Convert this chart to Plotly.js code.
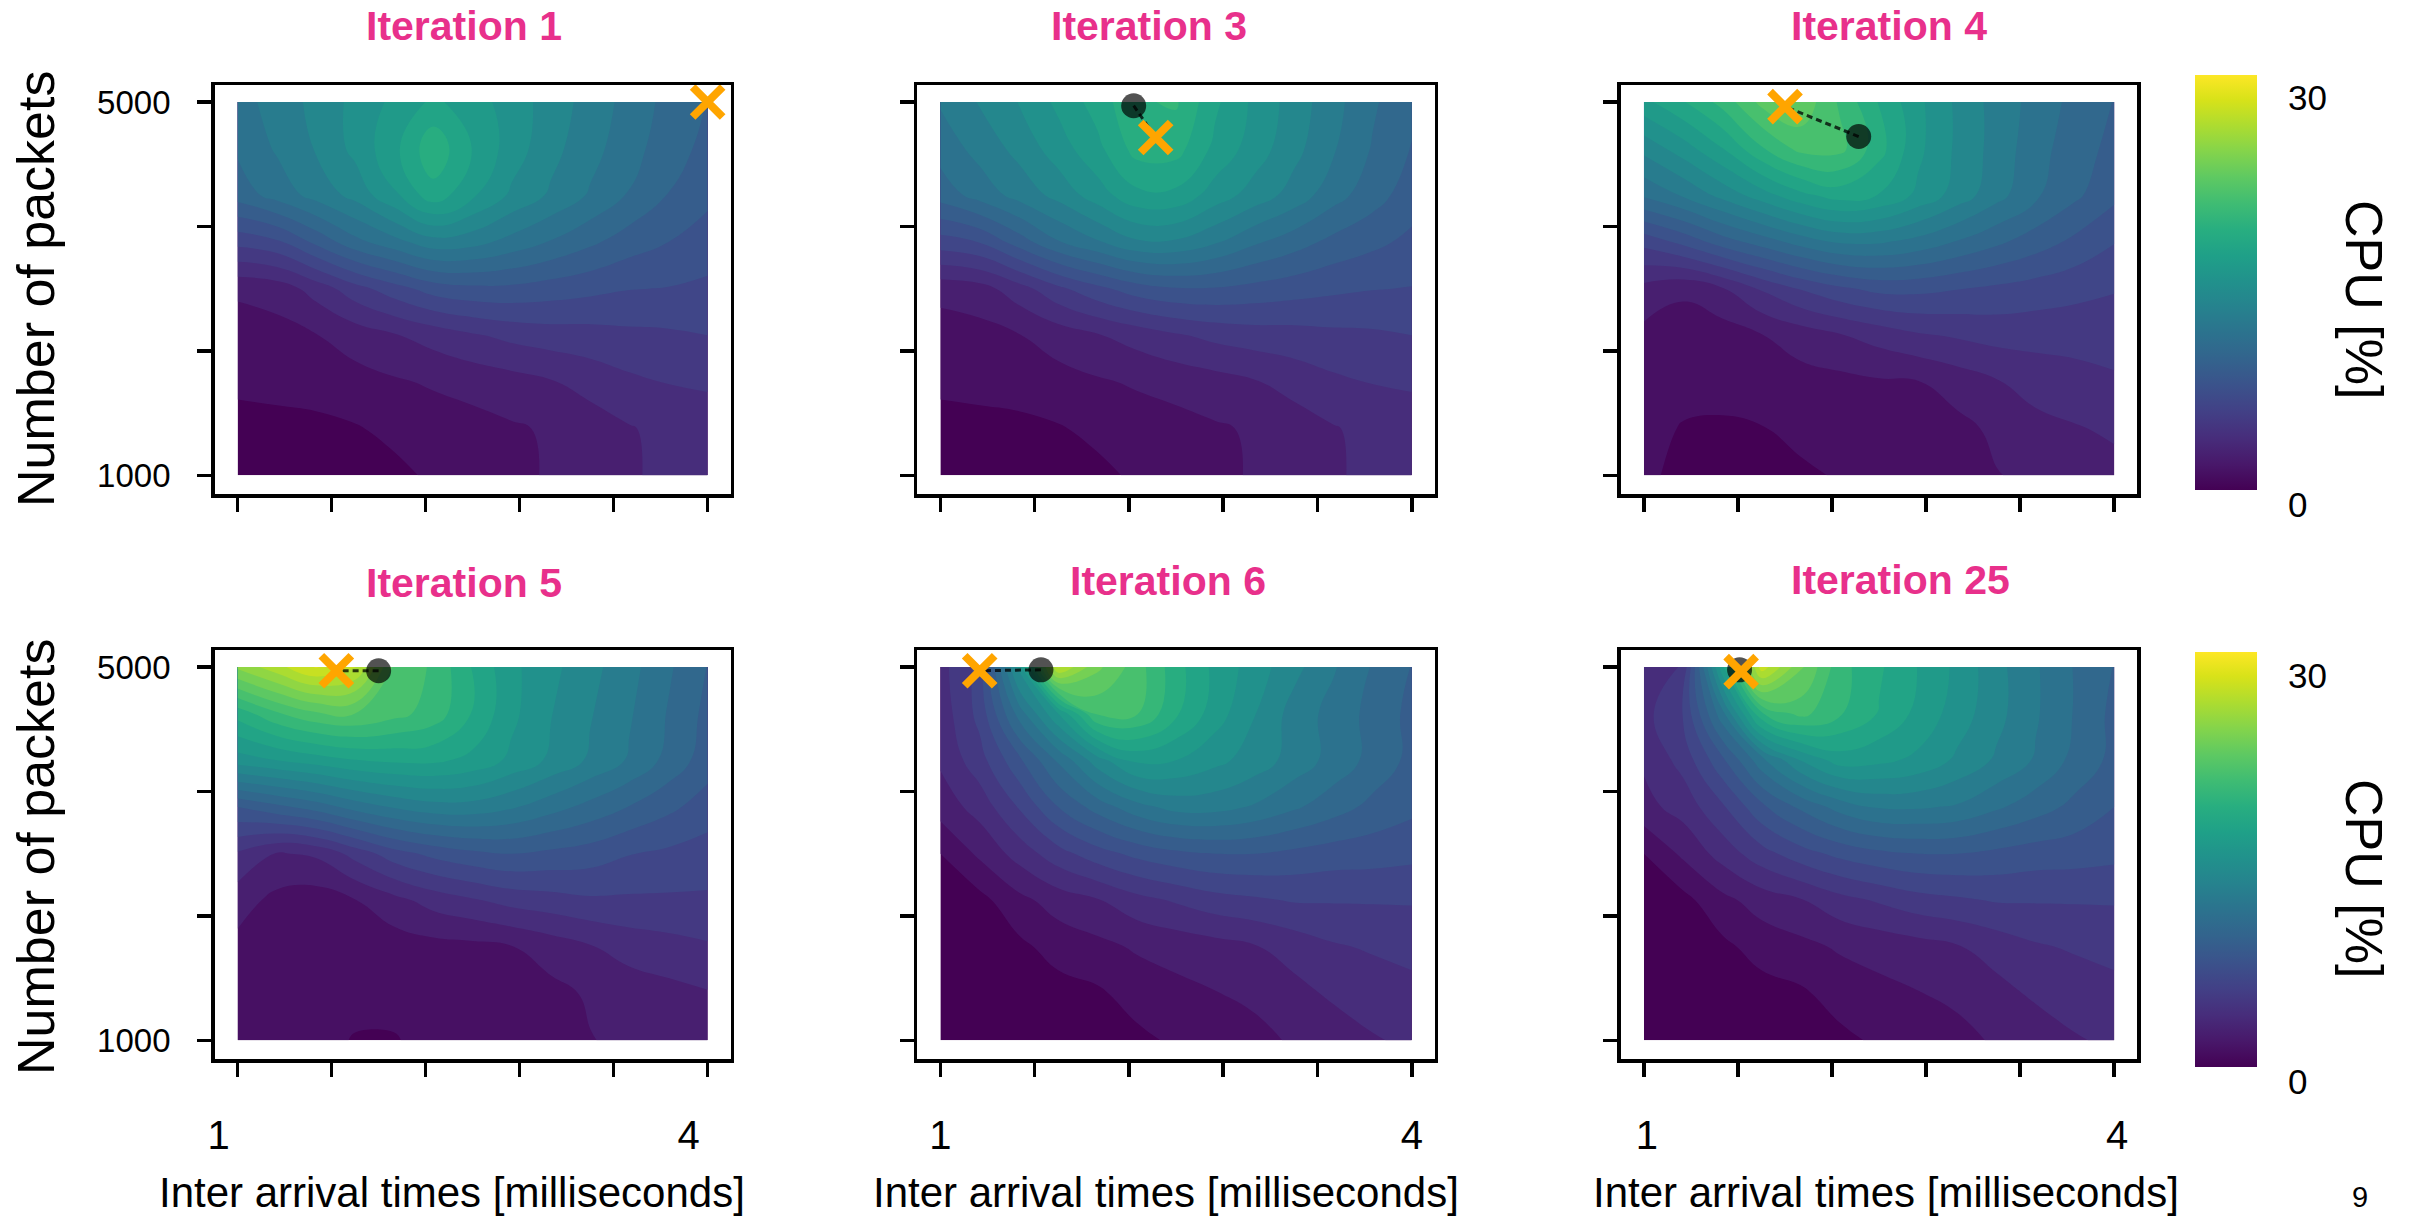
<!DOCTYPE html>
<html>
<head>
<meta charset="utf-8">
<script src="https://cdn.plot.ly/plotly-3.0.1.min.js"></script>
<style>
html,body{margin:0;padding:0;background:#ffffff;}
#chart{width:2415px;height:1216px;}
</style>
</head>
<body>
<div id="chart"></div>
<script>
// ---------------- DATA ----------------
const interArrival = [1, 1.25, 1.5, 1.75, 2, 2.25, 2.5, 2.75, 3, 3.25, 3.5, 3.75, 4];
const numPackets = [1000, 1500, 2000, 2500, 3000, 3500, 4000, 4500, 5000];

const iterations = [1, 3, 4, 5, 6, 25];

// CPU [%] estimated surfaces, rows follow numPackets, columns follow interArrival
const cpuIter1 = [
  [0.5,0.5,0.6,0.9,1.1,1.6,2.0,2.3,2.8,3.2,3.8,4.1,4.4],
  [0.9,1.0,1.1,1.3,1.7,2.0,2.2,2.5,2.8,3.2,3.8,4.3,4.6],
  [1.7,1.8,1.9,2.2,2.5,2.8,3.1,3.4,3.8,4.4,4.9,5.2,5.3],
  [2.0,2.2,2.6,3.2,3.8,4.4,5.0,5.5,5.8,5.9,6.1,6.2,6.4],
  [2.9,3.2,4.4,5.9,7.1,8.2,8.6,8.6,8.3,8.0,7.7,7.6,7.4],
  [6.8,7.4,9.2,11.0,12.2,13.4,13.1,12.2,11.3,10.4,9.5,8.9,8.3],
  [10.7,11.9,13.1,14.3,16.2,18.4,16.6,14.9,13.7,12.5,11.3,10.1,9.2],
  [11.6,12.8,14.0,15.5,17.3,19.8,17.6,15.8,14.3,13.1,11.9,10.7,9.8],
  [12.2,13.1,14.3,15.5,16.7,17.9,17.0,15.8,14.6,13.4,12.2,11.0,10.1]
];
const cpuIter3 = [
  [0.5,0.5,0.6,0.9,1.1,1.6,2.0,2.3,2.8,3.2,3.8,4.1,4.4],
  [0.9,1.0,1.1,1.3,1.7,2.0,2.2,2.5,2.8,3.2,3.8,4.3,4.6],
  [1.7,1.8,1.9,2.2,2.5,2.8,3.1,3.4,3.8,4.4,4.9,5.2,5.3],
  [2.0,2.2,2.6,3.2,3.8,4.4,5.0,5.5,5.8,5.9,6.1,6.2,6.4],
  [3.1,3.4,4.6,6.1,7.3,8.3,8.8,8.8,8.5,8.2,7.9,7.7,7.6],
  [7.1,7.7,9.5,11.3,12.5,13.7,13.7,12.8,11.6,10.7,9.8,9.2,8.6],
  [10.7,11.9,13.1,14.3,15.8,17.3,17.3,15.8,14.6,13.4,11.9,10.7,9.5],
  [11.9,13.1,14.3,15.8,17.3,19.4,19.4,17.3,15.8,14.3,12.8,11.3,10.1],
  [12.8,14.0,15.2,16.7,18.2,20.0,20.3,17.9,16.1,14.6,13.1,11.6,10.4]
];
const cpuIter4 = [
  [1.7,1.0,0.6,0.8,1.2,1.5,2.0,2.2,2.3,2.6,2.9,3.2,3.5],
  [1.9,1.3,1.2,1.35,1.7,1.9,2.0,2.2,2.3,2.9,3.5,3.8,4.1],
  [2.0,1.9,1.9,2.0,2.2,2.3,2.5,2.6,3.2,3.8,4.4,4.7,5.0],
  [2.3,2.0,2.0,2.6,3.2,3.8,4.4,5.0,5.3,5.6,5.6,5.6,5.6],
  [3.5,2.9,3.8,5.3,6.5,7.4,8.0,8.0,7.7,7.4,7.1,6.8,6.5],
  [6.8,8.0,9.5,10.7,11.9,12.8,12.8,12.2,11.3,10.4,9.5,8.6,7.7],
  [11.6,12.8,14.3,15.8,17.3,18.2,17.6,16.1,14.6,13.1,11.6,10.4,9.2],
  [14.3,15.8,17.6,20.0,21.8,21.8,19.4,16.7,14.9,13.4,11.9,10.7,9.8],
  [17.3,18.8,20.6,23.0,23.6,21.2,18.8,16.7,14.9,13.4,12.2,11.0,10.1]
];
const cpuIter5 = [
  [2.0,2.0,1.9,1.3,1.3,1.9,2.0,2.2,2.3,2.6,2.9,3.2,3.5],
  [2.2,2.0,1.9,1.9,1.9,1.9,2.0,2.2,2.3,2.8,3.2,3.5,3.8],
  [2.3,2.0,1.9,1.9,2.0,2.2,2.3,2.6,3.2,3.8,4.4,4.7,5.0],
  [3.2,2.3,2.0,2.6,3.5,4.4,5.0,5.6,5.9,6.2,6.2,6.2,6.2],
  [5.0,3.8,4.1,5.6,7.1,8.0,8.6,8.9,8.6,8.3,7.7,7.4,7.1],
  [8.9,9.8,10.7,11.9,12.8,13.4,13.4,12.8,11.9,11.0,10.1,9.2,8.3],
  [15.8,16.4,17.0,17.6,17.9,17.9,17.3,16.1,14.9,13.7,12.5,11.0,9.5],
  [19.4,21.2,22.4,22.7,21.8,20.9,18.8,16.7,15.2,14.0,12.8,11.3,9.8],
  [25.4,27.2,29.0,27.8,22.4,21.2,18.8,16.7,15.5,14.3,13.1,11.6,10.1]
];
const cpuIter6 = [
  [0.2,0.3,0.4,0.5,0.6,1.1,1.6,2.0,2.3,2.8,3.2,3.8,4.1],
  [0.3,0.4,0.5,0.9,1.2,1.9,2.3,2.6,2.9,3.5,4.1,4.4,4.7],
  [0.4,0.5,1.1,1.9,2.3,2.8,3.1,3.4,3.8,4.4,5.0,5.3,5.6],
  [0.6,1.0,2.3,3.2,3.8,4.7,5.3,5.9,6.2,6.5,6.5,6.5,6.5],
  [1.4,2.9,4.4,5.9,7.1,8.0,8.6,8.9,8.9,8.6,8.3,8.2,8.0],
  [3.2,4.4,6.5,8.9,10.7,12.2,13.1,13.1,12.5,11.6,10.7,9.8,9.2],
  [4.1,5.9,8.6,11.6,14.6,16.7,16.4,15.5,14.6,13.4,12.2,11.0,9.8],
  [4.4,6.8,11.9,16.4,21.6,21.5,19.1,17.0,15.2,13.4,12.2,11.0,9.8],
  [4.7,6.8,15.8,27.8,24.2,22.0,19.4,17.3,15.8,14.3,12.8,11.3,10.1]
];
const cpuIter25 = [
  [0.2,0.3,0.4,0.5,0.6,1.1,1.6,2.0,2.3,2.8,3.2,3.8,4.1],
  [0.3,0.4,0.5,0.9,1.2,1.9,2.3,2.6,2.9,3.5,4.1,4.4,4.7],
  [0.4,0.5,1.1,1.9,2.3,2.8,3.1,3.4,3.8,4.4,5.0,5.3,5.6],
  [0.6,1.0,2.3,3.2,3.8,4.7,5.3,5.9,6.2,6.5,6.5,6.5,6.5],
  [1.4,2.9,4.4,5.9,7.1,8.0,8.6,8.9,8.9,8.6,8.3,8.2,8.0],
  [3.5,4.4,6.2,8.6,10.4,11.9,12.8,12.8,12.5,11.6,10.7,9.8,8.9],
  [4.1,5.6,8.6,12.2,15.2,17.0,16.7,16.1,14.9,13.7,12.5,11.0,9.8],
  [4.7,6.5,12.2,20.0,21.8,20.3,18.8,17.3,15.8,14.3,12.8,11.3,9.8],
  [4.1,5.3,17.3,28.4,24.2,20.6,19.1,17.6,16.1,14.3,12.8,11.3,10.1]
];
const cpuSurfaces = [cpuIter1, cpuIter3, cpuIter4, cpuIter5, cpuIter6, cpuIter25];

// previously evaluated point (black dot) and next suggestion (orange cross)
const prevX = [null, 2.23, 2.37, 1.90, 1.64, 1.61];
const prevY = [null, 4960, 4630, 4960, 4970, 4970];
const nextX = [4.0, 2.37, 1.90, 1.63, 1.25, 1.62];
const nextY = [5000, 4620, 4950, 4960, 4960, 4950];

// tick labels
const xTickVals = [1, 1.6, 2.2, 2.8, 3.4, 4];
const xTickText = ['1', '', '', '', '', '4'];
const yTickVals = [1000, 2333.333, 3666.667, 5000];
const yTickText = ['1000', '', '', '5000'];
const cbTickLabels = ['30', '0'];

// ---------------- LAYOUT HELPERS ----------------
const W = 2415, H = 1216;
const px = v => v / W;
const py = v => 1 - v / H;
const FONT = 'Liberation Sans, Arial, Helvetica, sans-serif';
const PINK = '#e8308b';

const colPx = [[214.6, 730.5], [917.3, 1434.7], [1620.9, 2137.1]];
const rowPx = [[85, 494], [650, 1059]];
const xLabelShift = [-19, 0, 3];

// contour levels: band colours from viridis(0) below start to viridis(1) above end
const levels = {start: 1.4, end: 30.15, size: 1.25};

const traces = [];
const layout = {
  width: W, height: H,
  margin: {l: 0, r: 0, t: 0, b: 0},
  paper_bgcolor: '#ffffff',
  plot_bgcolor: '#ffffff',
  showlegend: false,
  font: {family: FONT, color: '#000'},
  annotations: []
};

for (let i = 0; i < 6; i++) {
  const row = i < 3 ? 0 : 1;
  const col = i % 3;
  const xid = i === 0 ? 'x' : 'x' + (i + 1);
  const yid = i === 0 ? 'y' : 'y' + (i + 1);
  const xname = i === 0 ? 'xaxis' : 'xaxis' + (i + 1);
  const yname = i === 0 ? 'yaxis' : 'yaxis' + (i + 1);

  layout[xname] = {
    domain: [px(colPx[col][0]), px(colPx[col][1])],
    range: [0.853, 4.146],
    anchor: yid,
    tickmode: 'array', tickvals: xTickVals, ticktext: xTickText,
    showticklabels: row === 1,
    ticks: 'outside', ticklen: 14, tickwidth: 3.5, tickcolor: '#000',
    showline: true, linewidth: 3.5, linecolor: '#000', mirror: true,
    showgrid: false, zeroline: false, fixedrange: true,
    tickfont: {family: FONT, size: 40, color: '#000'},
    ticklabelstandoff: 24,
    ticklabelshift: xLabelShift[col]
  };
  layout[yname] = {
    domain: [py(rowPx[row][1]), py(rowPx[row][0])],
    range: [800, 5182],
    anchor: xid,
    tickmode: 'array', tickvals: yTickVals, ticktext: yTickText,
    showticklabels: col === 0,
    ticks: 'outside', ticklen: 14, tickwidth: 3.5, tickcolor: '#000',
    showline: true, linewidth: 3.5, linecolor: '#000', mirror: true,
    showgrid: false, zeroline: false, fixedrange: true,
    tickfont: {family: FONT, size: 33, color: '#000'},
    ticklabelstandoff: 20
  };

  traces.push({
    type: 'contour',
    x: interArrival, y: numPackets, z: cpuSurfaces[i],
    xaxis: xid, yaxis: yid,
    colorscale: 'Viridis',
    autocontour: false,
    contours: {start: levels.start, end: levels.end, size: levels.size, coloring: 'fill', showlines: false},
    line: {width: 0, smoothing: 1.3},
    showscale: false,
    hoverinfo: 'skip'
  });

  if (prevX[i] !== null) {
    traces.push({
      type: 'scatter', mode: 'lines',
      x: [prevX[i], nextX[i]], y: [prevY[i], nextY[i]],
      xaxis: xid, yaxis: yid,
      line: {color: 'rgba(0,0,0,0.75)', width: 3, dash: '6px,4px'},
      hoverinfo: 'skip', cliponaxis: false
    });
    traces.push({
      type: 'scatter', mode: 'markers',
      x: [prevX[i]], y: [prevY[i]],
      xaxis: xid, yaxis: yid,
      marker: {symbol: 'circle', size: 25, color: 'rgba(0,0,0,0.68)', line: {width: 0}},
      hoverinfo: 'skip', cliponaxis: false
    });
  }
  traces.push({
    type: 'scatter', mode: 'markers',
    x: [nextX[i]], y: [nextY[i]],
    xaxis: xid, yaxis: yid,
    marker: {symbol: 'x-thin-open', size: 30, color: '#ffa500', line: {color: '#ffa500', width: 8}},
    hoverinfo: 'skip', cliponaxis: false
  });

  // panel title
  const titlePos = [[463.5, 26], [1149, 26], [1889, 26], [464, 583], [1168, 581], [1900, 580]][i];
  layout.annotations.push({
    text: '<b>Iteration ' + iterations[i] + '</b>',
    xref: 'paper', yref: 'paper', x: px(titlePos[0]), y: py(titlePos[1]),
    xanchor: 'center', yanchor: 'middle', showarrow: false,
    font: {family: FONT, size: 41, color: PINK}
  });
  if (row === 1) {
    const xt = [452, 1166, 1886][col];
    layout.annotations.push({
      text: 'Inter arrival times [milliseconds]',
      xref: 'paper', yref: 'paper', x: px(xt), y: py(1192),
      xanchor: 'center', yanchor: 'middle', showarrow: false,
      font: {family: FONT, size: 42, color: '#000'}
    });
  }
  if (col === 0) {
    layout.annotations.push({
      text: 'Number of packets',
      xref: 'paper', yref: 'paper', x: px(36), y: py(row === 0 ? 289 : 857),
      xanchor: 'center', yanchor: 'middle', showarrow: false, textangle: -90,
      font: {family: FONT, size: 52, color: '#000'}
    });
  }
}

// colour bars (continuous viridis), carried by hidden heatmaps sharing the panel data
const cbRows = [[75, 490], [652, 1067]];
[cpuIter4, cpuIter25].forEach((z, k) => {
  const xa = 'x' + (7 + k), ya = 'y' + (7 + k);
  layout['xaxis' + (7 + k)] = {domain: [0, 0.0004], visible: false, anchor: ya, fixedrange: true};
  layout['yaxis' + (7 + k)] = {domain: [0, 0.0004], visible: false, anchor: xa, fixedrange: true};
  const top = cbRows[k][0], bot = cbRows[k][1];
  traces.push({
    type: 'heatmap', x: interArrival, y: numPackets, z: z,
    xaxis: xa, yaxis: ya, opacity: 0, hoverinfo: 'skip',
    colorscale: 'Viridis', zmin: 0.775, zmax: 30.775,
    colorbar: {
      x: px(2195), xanchor: 'left', y: py((top + bot) / 2), yanchor: 'middle',
      len: (bot - top) / H, lenmode: 'fraction',
      thickness: 62, thicknessmode: 'pixels',
      xpad: 0, ypad: 0, outlinewidth: 0,
      showticklabels: false, ticks: ''
    }
  });
  layout.annotations.push({
    text: cbTickLabels[0], xref: 'paper', yref: 'paper', x: px(2286), y: py(top + 23),
    xanchor: 'left', yanchor: 'middle', showarrow: false,
    font: {family: FONT, size: 35, color: '#000'}
  });
  layout.annotations.push({
    text: cbTickLabels[1], xref: 'paper', yref: 'paper', x: px(2286), y: py(bot + 14),
    xanchor: 'left', yanchor: 'middle', showarrow: false,
    font: {family: FONT, size: 35, color: '#000'}
  });
  layout.annotations.push({
    text: 'CPU [%]', xref: 'paper', yref: 'paper', x: px(2364), y: py(k === 0 ? 299 : 878),
    xanchor: 'center', yanchor: 'middle', showarrow: false, textangle: 90,
    font: {family: FONT, size: 52, color: '#000'}
  });
});

// page number
layout.annotations.push({
  text: '9', xref: 'paper', yref: 'paper', x: px(2360), y: py(1197),
  xanchor: 'center', yanchor: 'middle', showarrow: false,
  font: {family: FONT, size: 29, color: '#000'}
});

Plotly.newPlot('chart', traces, layout, {staticPlot: true, displayModeBar: false});
</script>
</body>
</html>
